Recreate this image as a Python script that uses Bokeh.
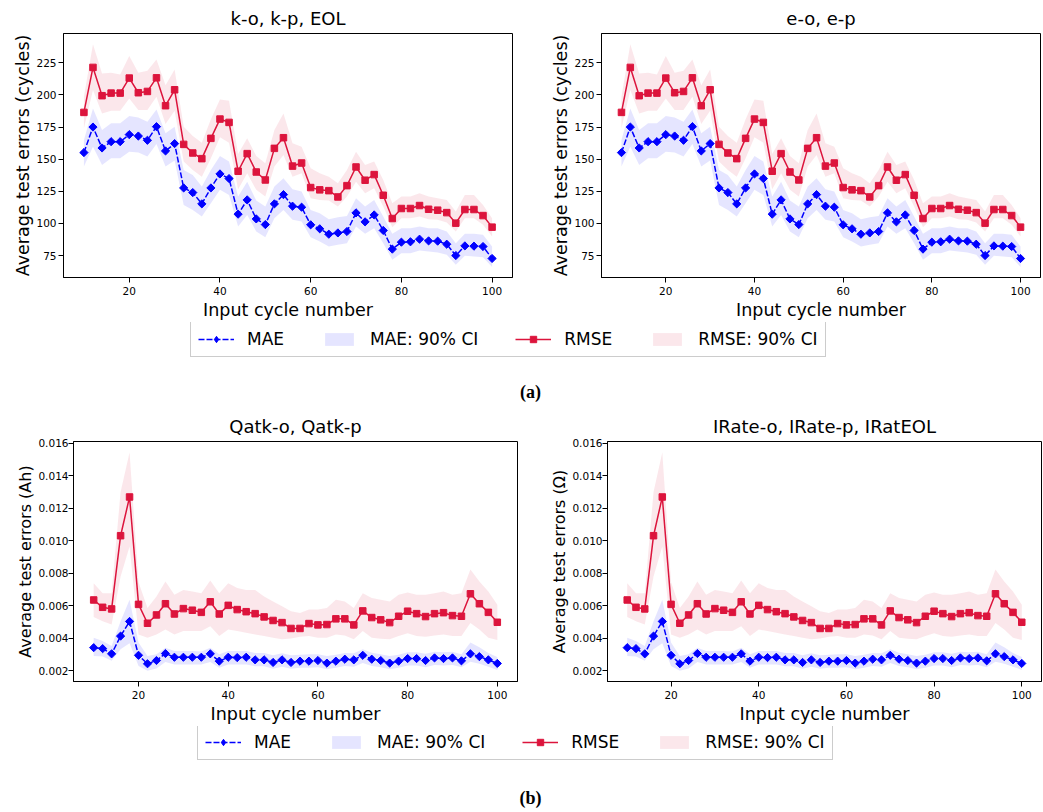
import numpy as np
from bokeh.plotting import figure
from bokeh.layouts import column, row
from bokeh.models import (ColumnDataSource, Range1d, FixedTicker, PrintfTickFormatter,
                          Legend, LegendItem, Label)
from bokeh.embed import file_html
from bokeh.resources import INLINE

# ---------------- data ----------------
cycles = [10, 12, 14, 16, 18, 20, 22, 24, 26, 28, 30, 32, 34, 36, 38, 40, 42, 44, 46, 48,
          50, 52, 54, 56, 58, 60, 62, 64, 66, 68, 70, 72, 74, 76, 78, 80, 82, 84, 86, 88,
          90, 92, 94, 96, 98, 100]

# (a) cycle-life targets
a_mae = [155.1, 175.0, 158.7, 163.6, 163.6, 169.1, 168.0, 164.7, 175.3, 156.4,
         162.1, 127.6, 124.0, 115.2, 127.6, 138.5, 134.9, 107.2, 118.3, 103.5,
         99.1, 115.2, 122.4, 113.4, 112.6, 98.9, 95.8, 91.6, 92.6, 93.7,
         108.2, 101.2, 106.6, 94.5, 80.0, 85.4, 85.7, 87.7, 86.4, 86.2,
         83.8, 75.0, 82.5, 82.3, 82.0, 72.7]
a_mae_lo = [144.2, 159.7, 145.5, 150.7, 150.7, 155.8, 155.1, 152.0, 161.8, 144.2,
            148.9, 114.4, 110.5, 105.3, 115.7, 126.1, 122.2, 97.6, 106.6, 93.7,
            89.3, 104.0, 110.5, 102.8, 101.5, 89.3, 85.9, 82.0, 83.3, 84.6,
            97.6, 91.9, 96.3, 84.6, 71.7, 76.8, 76.8, 78.9, 78.1, 77.4,
            75.6, 67.8, 74.8, 74.3, 73.7, 66.0]
a_mae_hi = [164.9, 189.5, 172.7, 177.9, 177.9, 183.6, 182.5, 179.2, 188.7, 170.1,
            175.3, 141.6, 137.7, 128.7, 141.6, 152.5, 148.1, 120.9, 132.5, 117.8,
            113.1, 128.7, 135.1, 126.6, 124.8, 110.5, 107.9, 103.3, 104.8, 105.8,
            119.6, 113.1, 118.3, 105.3, 91.9, 96.3, 96.3, 97.6, 96.3, 96.3,
            93.7, 84.6, 91.9, 91.9, 91.1, 82.0]
a_rmse = [186.4, 221.4, 199.4, 201.4, 201.4, 213.1, 201.7, 202.7, 213.3, 191.6,
          204.0, 161.5, 154.8, 150.4, 166.2, 181.2, 178.6, 140.6, 154.3, 140.0,
          133.8, 158.4, 166.7, 144.6, 147.0, 127.9, 126.1, 125.5, 120.6, 129.4,
          143.9, 133.6, 138.0, 121.9, 103.8, 111.6, 111.6, 113.9, 111.0, 110.3,
          108.4, 100.2, 110.8, 110.8, 106.1, 97.1]
a_rmse_lo = [174.0, 203.8, 185.6, 187.7, 187.7, 197.3, 188.2, 188.2, 198.6, 177.3,
             187.7, 148.1, 141.6, 136.4, 150.7, 167.0, 162.8, 126.6, 139.0, 126.1,
             120.9, 144.2, 153.3, 136.4, 139.0, 119.6, 118.3, 117.8, 113.1, 120.9,
             132.5, 123.5, 127.4, 113.1, 97.1, 104.0, 104.0, 105.3, 103.3, 102.8,
             100.7, 93.7, 104.0, 104.0, 98.9, 89.8]
a_rmse_hi = [198.6, 239.5, 216.7, 217.2, 215.9, 230.2, 217.2, 218.8, 227.6, 207.6,
             219.8, 175.3, 168.0, 162.8, 181.0, 196.5, 195.5, 154.0, 166.2, 152.5,
             146.8, 172.7, 185.6, 162.3, 159.7, 142.9, 139.0, 136.4, 131.2, 141.6,
             155.8, 145.5, 148.1, 133.8, 115.7, 120.9, 120.9, 123.5, 120.9, 119.6,
             118.3, 109.2, 122.2, 122.2, 114.4, 104.0]

# (b) capacity / resistance targets
b_mae = [0.00343, 0.00337, 0.00305, 0.00414, 0.00504, 0.00296, 0.00244, 0.00264, 0.00307, 0.00284,
         0.00284, 0.00284, 0.00284, 0.00305, 0.00260, 0.00284, 0.00282, 0.00284, 0.00268, 0.00268,
         0.00252, 0.00268, 0.00252, 0.00260, 0.00260, 0.00264, 0.00248, 0.00260, 0.00272, 0.00268,
         0.00296, 0.00272, 0.00264, 0.00248, 0.00260, 0.00276, 0.00276, 0.00264, 0.00280, 0.00276,
         0.00280, 0.00262, 0.00305, 0.00288, 0.00268, 0.00246]
b_mae_lo = [0.00292, 0.00288, 0.00262, 0.00333, 0.00370, 0.00231, 0.00201, 0.00215, 0.00255, 0.00240,
            0.00240, 0.00240, 0.00240, 0.00255, 0.00220, 0.00240, 0.00240, 0.00240, 0.00228, 0.00228,
            0.00214, 0.00226, 0.00214, 0.00220, 0.00220, 0.00222, 0.00210, 0.00220, 0.00230, 0.00226,
            0.00248, 0.00230, 0.00222, 0.00210, 0.00220, 0.00234, 0.00234, 0.00222, 0.00236, 0.00234,
            0.00236, 0.00222, 0.00257, 0.00244, 0.00226, 0.00206]
b_mae_hi = [0.00404, 0.00384, 0.00353, 0.00506, 0.00638, 0.00374, 0.00292, 0.00302, 0.00343, 0.00323,
            0.00323, 0.00323, 0.00320, 0.00343, 0.00302, 0.00323, 0.00323, 0.00323, 0.00310, 0.00310,
            0.00296, 0.00308, 0.00296, 0.00300, 0.00302, 0.00302, 0.00292, 0.00300, 0.00310, 0.00308,
            0.00333, 0.00312, 0.00302, 0.00292, 0.00300, 0.00315, 0.00315, 0.00305, 0.00318, 0.00315,
            0.00318, 0.00302, 0.00374, 0.00345, 0.00310, 0.00286]
b_rmse = [0.00636, 0.00591, 0.00581, 0.01031, 0.01269, 0.00609, 0.00493, 0.00544, 0.00613, 0.00550,
          0.00583, 0.00573, 0.00560, 0.00625, 0.00550, 0.00603, 0.00577, 0.00564, 0.00552, 0.00532,
          0.00510, 0.00497, 0.00461, 0.00461, 0.00491, 0.00483, 0.00485, 0.00520, 0.00520, 0.00483,
          0.00569, 0.00528, 0.00514, 0.00497, 0.00536, 0.00567, 0.00552, 0.00534, 0.00552, 0.00558,
          0.00540, 0.00536, 0.00674, 0.00613, 0.00560, 0.00499]
b_rmse_lo = [0.00532, 0.00506, 0.00485, 0.00780, 0.00965, 0.00424, 0.00404, 0.00424, 0.00455, 0.00424,
             0.00445, 0.00445, 0.00445, 0.00475, 0.00414, 0.00455, 0.00445, 0.00435, 0.00424, 0.00414,
             0.00404, 0.00394, 0.00400, 0.00410, 0.00414, 0.00404, 0.00404, 0.00424, 0.00418, 0.00394,
             0.00445, 0.00404, 0.00398, 0.00394, 0.00414, 0.00431, 0.00414, 0.00410, 0.00418, 0.00424,
             0.00414, 0.00414, 0.00495, 0.00455, 0.00404, 0.00390]
b_rmse_hi = [0.00739, 0.00678, 0.00678, 0.01300, 0.01543, 0.00745, 0.00587, 0.00658, 0.00749, 0.00668,
             0.00698, 0.00688, 0.00678, 0.00755, 0.00678, 0.00739, 0.00709, 0.00698, 0.00698, 0.00658,
             0.00627, 0.00597, 0.00566, 0.00556, 0.00577, 0.00577, 0.00587, 0.00638, 0.00627, 0.00587,
             0.00678, 0.00648, 0.00638, 0.00627, 0.00668, 0.00682, 0.00668, 0.00668, 0.00678, 0.00688,
             0.00668, 0.00678, 0.00824, 0.00749, 0.00688, 0.00607]

titles = ["k-o, k-p, EOL", "e-o, e-p", "Qatk-o, Qatk-p", "IRate-o, IRate-p, IRatEOL"]
ylabels = ["Average test errors (cycles)", "Average test errors (cycles)",
           "Average test errors (Ah)", "Average test errors (\u03a9)"]
xticks = [20, 40, 60, 80, 100]
a_yticks = [75, 100, 125, 150, 175, 200, 225]
b_yticks = [0.002, 0.004, 0.006, 0.008, 0.010, 0.012, 0.014, 0.016]
legend_labels = ["MAE", "MAE: 90% CI", "RMSE", "RMSE: 90% CI"]

# ---------------- style ----------------
FONT = "DejaVu Sans"
BLUE = "#0000ff"
RED = "#dc143c"
DASH = "6 2"


def panel(title, ylabel, mae, mae_lo, mae_hi, rmse, rmse_lo, rmse_hi, yr, yticks, fmt,
          width, height, bl, br, bt, bb, ylab_size, ylab_standoff):
    p = figure(width=width, height=height, output_backend="svg", toolbar_location=None,
               x_range=Range1d(5.5, 104.5), y_range=Range1d(*yr),
               min_border_left=bl, min_border_right=br, min_border_top=bt, min_border_bottom=bb)
    p.title.text = title
    p.title.text_font = FONT
    p.title.text_font_size = "18px"
    p.title.text_font_style = "normal"
    p.title.text_color = "black"
    p.title.align = "center"
    p.title.standoff = 9
    src = ColumnDataSource(dict(x=cycles, mae=mae, mae_lo=mae_lo, mae_hi=mae_hi,
                                rmse=rmse, rmse_lo=rmse_lo, rmse_hi=rmse_hi))
    p.varea(x="x", y1="mae_lo", y2="mae_hi", source=src, fill_color=BLUE, fill_alpha=0.1)
    p.varea(x="x", y1="rmse_lo", y2="rmse_hi", source=src, fill_color=RED, fill_alpha=0.1)
    p.line("x", "mae", source=src, line_color=BLUE, line_width=1.5, line_dash=DASH)
    p.scatter("x", "mae", source=src, marker="square", angle=np.pi / 4, size=5.8,
              fill_color=BLUE, line_color=BLUE)
    p.line("x", "rmse", source=src, line_color=RED, line_width=1.5)
    p.scatter("x", "rmse", source=src, marker="square", size=6.5,
              fill_color=RED, line_color=RED)
    p.xgrid.visible = False
    p.ygrid.visible = False
    p.outline_line_color = "black"
    p.outline_line_alpha = 1
    p.outline_line_width = 1
    for ax in (p.xaxis[0], p.yaxis[0]):
        ax.axis_line_color = "black"
        ax.major_tick_line_color = "black"
        ax.major_tick_out = 5
        ax.major_tick_in = 0
        ax.minor_tick_line_color = None
        ax.major_label_text_font = FONT
        ax.major_label_text_font_size = "10.5px"
        ax.major_label_text_color = "black"
        ax.axis_label_text_font = FONT
        ax.axis_label_text_font_style = "normal"
        ax.axis_label_text_color = "black"
    p.xaxis.ticker = FixedTicker(ticks=xticks)
    p.xaxis.axis_label = "Input cycle number"
    p.xaxis.axis_label_text_font_size = "17.5px"
    p.xaxis.major_label_standoff = 4
    p.xaxis.axis_label_standoff = 2
    p.yaxis.ticker = FixedTicker(ticks=yticks)
    if fmt:
        p.yaxis.formatter = PrintfTickFormatter(format=fmt)
    p.yaxis.axis_label = ylabel
    p.yaxis.axis_label_text_font_size = ylab_size
    p.yaxis.major_label_standoff = ylab_standoff
    p.yaxis.axis_label_standoff = 0
    return p


def legend_fig(height, lx, ly, caption, cy):
    lf = figure(width=1043, height=height, output_backend="svg", toolbar_location=None,
                x_range=Range1d(0, 1), y_range=Range1d(0, 1), min_border=0,
                x_axis_location=None, y_axis_location=None)
    lf.grid.visible = False
    lf.outline_line_color = None
    # placeholder glyphs that sit outside the visible range; they only feed the legend
    e = ColumnDataSource(dict(x=[5, 6], y=[5, 6], y1=[5, 6], y2=[6, 7]))
    r_ml = lf.line("x", "y", source=e, line_color=BLUE, line_width=1.5, line_dash=DASH)
    r_mm = lf.scatter("x", "y", source=e, marker="diamond", size=10,
                      fill_color=BLUE, line_color=BLUE)
    r_mb = lf.varea(x="x", y1="y1", y2="y2", source=e, fill_color=BLUE, fill_alpha=0.1)
    r_rl = lf.line("x", "y", source=e, line_color=RED, line_width=1.5)
    r_rm = lf.scatter("x", "y", source=e, marker="square", size=6.5,
                      fill_color=RED, line_color=RED)
    r_rb = lf.varea(x="x", y1="y1", y2="y2", source=e, fill_color=RED, fill_alpha=0.1)
    items = [LegendItem(label=legend_labels[0], renderers=[r_ml, r_mm]),
             LegendItem(label=legend_labels[1], renderers=[r_mb]),
             LegendItem(label=legend_labels[2], renderers=[r_rl, r_rm]),
             LegendItem(label=legend_labels[3], renderers=[r_rb])]
    leg = Legend(items=items, location=(lx, ly), orientation="horizontal",
                 border_line_color="#cccccc", border_line_width=1, border_line_alpha=1,
                 background_fill_color="white", background_fill_alpha=0.8,
                 padding=7, spacing=37, label_standoff=13, glyph_width=36, glyph_height=16,
                 label_text_font=FONT, label_text_font_size="17px", label_text_color="black")
    lf.add_layout(leg)
    lf.add_layout(Label(x=530, y=cy, x_units="screen", y_units="screen", text=caption,
                        text_align="center", text_baseline="middle",
                        text_font="Liberation Serif", text_font_style="bold",
                        text_font_size="18px", text_color="black"))
    return lf


p1 = panel(titles[0], ylabels[0], a_mae, a_mae_lo, a_mae_hi, a_rmse, a_rmse_lo, a_rmse_hi,
           (57.9, 247.8), a_yticks, None, 528, 322, 63, 16, 33, 45, "17.5px", 2)
p2 = panel(titles[1], ylabels[1], a_mae, a_mae_lo, a_mae_hi, a_rmse, a_rmse_lo, a_rmse_hi,
           (57.9, 247.8), a_yticks, None, 515, 322, 73, 3, 33, 45, "17.5px", 2)
p3 = panel(titles[2], ylabels[2], b_mae, b_mae_lo, b_mae_hi, b_rmse, b_rmse_lo, b_rmse_hi,
           (0.00135, 0.0161), b_yticks, "%.3f", 533, 318, 73, 16, 33, 43, "16px", 0)
p4 = panel(titles[3], ylabels[3], b_mae, b_mae_lo, b_mae_hi, b_rmse, b_rmse_lo, b_rmse_hi,
           (0.00135, 0.0161), b_yticks, "%.3f", 510, 318, 74, 2, 33, 43, "16px", 0)

legA = legend_fig(86, 190, 51, "(a)", 17)
legB = legend_fig(86, 197, 52, "(b)", 15)

layout = column(row(p1, p2), legA, row(p3, p4), legB)

open("out.html", "w").write(file_html(layout, INLINE))
